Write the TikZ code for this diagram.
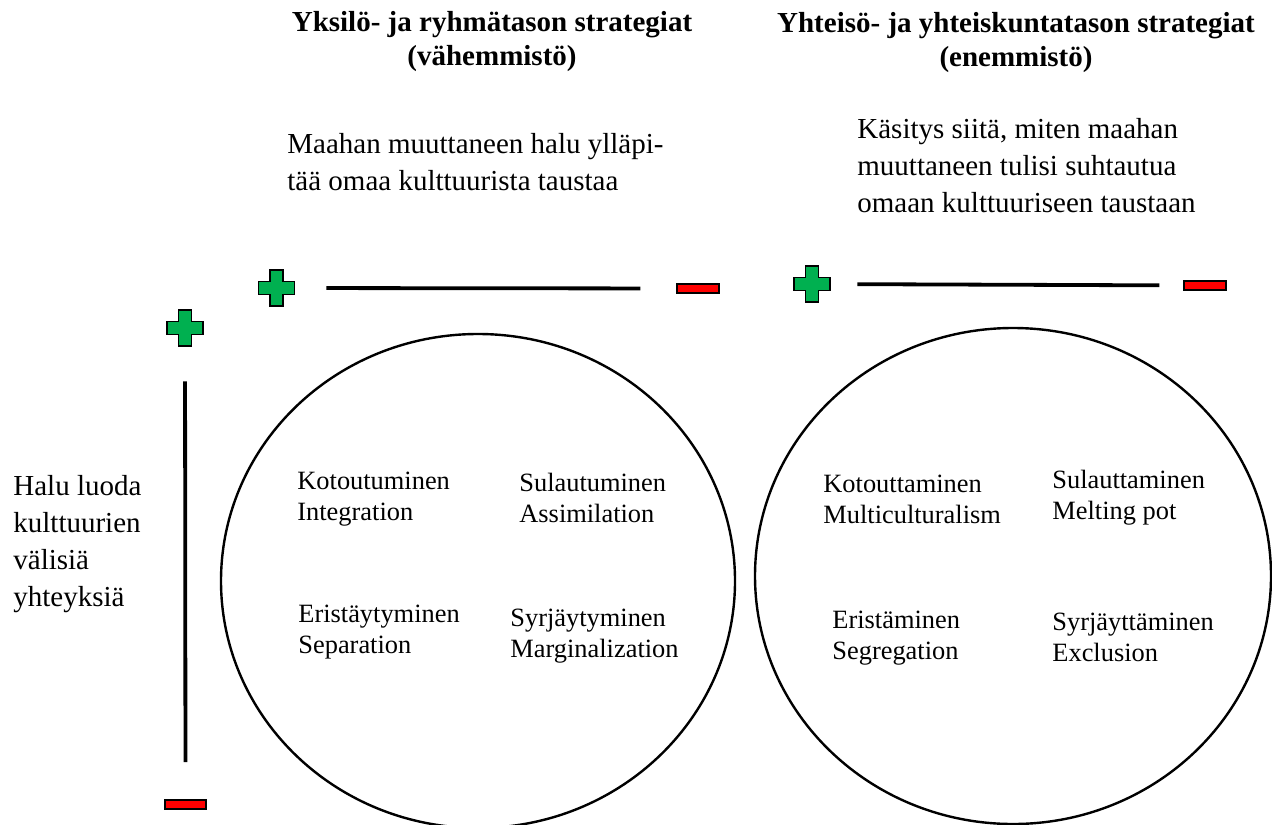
\documentclass[tikz,border=0pt]{standalone}
\usepackage{fontspec}
\setmainfont{Liberation Serif}
\definecolor{plusgreen}{RGB}{0,176,80}
\definecolor{minusred}{RGB}{255,0,0}
\tikzset{
	plusmark/.style={minimum size=20pt, inner sep=0pt,
		path picture={\draw [fill=plusgreen, line width=0.85pt, shift={(path picture bounding box.center)}]
			(-3.2pt,9pt) -- (3.2pt,9pt) -- (3.2pt,3.2pt) -- (9pt,3.2pt) -- (9pt,-3.2pt) -- (3.2pt,-3.2pt)
			-- (3.2pt,-9pt) -- (-3.2pt,-9pt) -- (-3.2pt,-3.2pt) -- (-9pt,-3.2pt) -- (-9pt,3.2pt) -- (-3.2pt,3.2pt) -- cycle;}},
	minusmark/.style={draw, fill=minusred, line width=0.85pt, minimum width=20.75pt, minimum height=4.75pt, inner sep=0pt},
	axisline/.style={line width=1.9pt},
	heading/.style={font=\bfseries\fontsize{14.5}{17}\selectfont, align=center, anchor=base, inner sep=0pt},
	desc/.style={font=\fontsize{14.5}{18.5}\selectfont, align=left, anchor=base west, inner sep=0pt},
	strategy/.style={font=\fontsize{13.2}{15.5}\selectfont, align=left, anchor=base west, inner sep=0pt}
}
\begin{document}
\begin{tikzpicture}[x=0.5pt, y=-0.5pt]
	\useasboundingbox (0,0) rectangle (1272,824);
	\clip (0,0) rectangle (1272,824);
	\draw [line width=1.2pt]
	(478,581) ellipse [x radius=128.5pt, y radius=123.5pt]
	(1013,576) ellipse [x radius=129pt, y radius=124pt];
	\node [heading] (headmin) at (492,66) {Yksilö- ja ryhmätason strategiat\\(vähemmistö)};
	\node [heading] (headmaj) at (1016,67) {Yhteisö- ja yhteiskuntatason strategiat\\(enemmistö)};
	\node [desc] (descmin) at (287,190) {Maahan muuttaneen halu ylläpi-\\tää omaa kulttuurista taustaa};
	\node [desc] (descmaj) at (857,212) {Käsitys siitä, miten maahan\\muuttaneen tulisi suhtautua\\omaan kulttuuriseen taustaan};
	\node [desc] (desccontact) at (13,606) {Halu luoda\\kulttuurien\\välisiä\\yhteyksiä};
	\node [plusmark] (plusmin) at (276.5,288) {};
	\node [minusmark] (minusmin) at (698,288.5) {};
	\node [plusmark] (plusmaj) at (812,284) {};
	\node [minusmark] (minusmaj) at (1205,285.5) {};
	\node [plusmark] (pluscontact) at (185,328) {};
	\node [minusmark] (minuscontact) at (185.5,804.5) {};
	\draw [axisline, shorten <=14.75pt, shorten >=18pt] (plusmin) -- (minusmin);
	\draw [axisline, shorten <=12.5pt, shorten >=12pt] (plusmaj) -- (minusmaj);
	\draw [axisline, shorten <=16.5pt, shorten >=18.4pt] (pluscontact) -- (minuscontact);
	\node [strategy] (integ) at (297,520) {Kotoutuminen\\Integration};
	\node [strategy] (assim) at (519,522) {Sulautuminen\\Assimilation};
	\node [strategy] (separ) at (298,653) {Eristäytyminen\\Separation};
	\node [strategy] (margin) at (510,657) {Syrjäytyminen\\Marginalization};
	\node [strategy] (multi) at (823,523) {Kotouttaminen\\Multiculturalism};
	\node [strategy] (melting) at (1052,519) {Sulauttaminen\\Melting pot};
	\node [strategy] (segreg) at (832,659) {Eristäminen\\Segregation};
	\node [strategy] (exclu) at (1052,661) {Syrjäyttäminen\\Exclusion};
\end{tikzpicture}
\end{document}
